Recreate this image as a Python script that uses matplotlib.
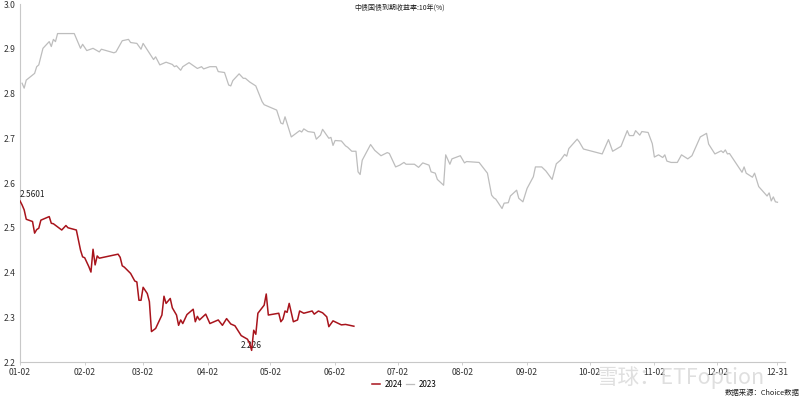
import numpy as np
import pandas as pd
import matplotlib
matplotlib.use("Agg")
import matplotlib.pyplot as plt

plt.rcParams['font.family'] = ['Noto Sans CJK SC', 'DejaVu Sans']

# 10Y China government bond yield, 2023 full year
dates_2023 = [
    "01-03", "01-04", "01-05", "01-09", "01-10", "01-11", "01-13", "01-16", "01-17", "01-18",
    "01-19", "01-20", "01-28", "01-31", "02-01", "02-03", "02-06", "02-09", "02-10", "02-16",
    "02-17", "02-20", "02-23", "02-24", "02-27", "03-01", "03-02", "03-07", "03-08", "03-10",
    "03-13", "03-16", "03-17", "03-18", "03-20", "03-21", "03-24", "03-28", "03-30", "03-31",
    "04-03", "04-06", "04-07", "04-10", "04-12", "04-13", "04-14", "04-17", "04-19", "04-20",
    "04-22", "04-25", "04-28", "04-29", "05-05", "05-07", "05-08", "05-09", "05-12", "05-16",
    "05-17", "05-18", "05-20", "05-23", "05-24", "05-26", "05-27", "05-30", "05-31", "06-01",
    "06-02", "06-05", "06-07", "06-08", "06-10", "06-12", "06-13", "06-14", "06-15", "06-19",
    "06-21", "06-24", "06-27", "06-28", "07-01", "07-03", "07-05", "07-06", "07-10", "07-12",
    "07-14", "07-17", "07-18", "07-20", "07-21", "07-24", "07-25", "07-27", "07-28", "08-01",
    "08-03", "08-04", "08-10", "08-14", "08-16", "08-17", "08-18", "08-21", "08-22", "08-24",
    "08-25", "08-28", "08-29", "08-31", "09-02", "09-05", "09-06", "09-09", "09-11", "09-14",
    "09-16", "09-18", "09-20", "09-21", "09-22", "09-26", "09-27", "09-29", "10-08", "10-11",
    "10-13", "10-17", "10-20", "10-21", "10-23", "10-24", "10-26", "10-27", "10-30", "11-01",
    "11-02", "11-04", "11-06", "11-07", "11-08", "11-10", "11-13", "11-15", "11-18", "11-20",
    "11-24", "11-27", "11-28", "12-01", "12-04", "12-05", "12-06", "12-07", "12-08", "12-11",
    "12-14", "12-15", "12-16", "12-19", "12-20", "12-22", "12-26", "12-27", "12-28", "12-29",
    "12-30", "12-31",
]
yield_2023 = [
    2.823, 2.812, 2.830, 2.845, 2.860, 2.864, 2.901, 2.916, 2.905, 2.921,
    2.916, 2.934, 2.934, 2.901, 2.910, 2.896, 2.901, 2.893, 2.899, 2.891,
    2.893, 2.918, 2.921, 2.914, 2.912, 2.899, 2.912, 2.876, 2.882, 2.864,
    2.870, 2.865, 2.860, 2.862, 2.852, 2.860, 2.869, 2.856, 2.860, 2.855,
    2.860, 2.860, 2.849, 2.847, 2.819, 2.817, 2.829, 2.844, 2.834, 2.834,
    2.826, 2.817, 2.782, 2.775, 2.763, 2.734, 2.732, 2.748, 2.703, 2.717,
    2.714, 2.721, 2.715, 2.713, 2.698, 2.707, 2.720, 2.700, 2.702, 2.684,
    2.695, 2.694, 2.683, 2.680, 2.671, 2.671, 2.625, 2.619, 2.651, 2.686,
    2.673, 2.661, 2.668, 2.666, 2.636, 2.640, 2.646, 2.642, 2.642, 2.635,
    2.645, 2.640, 2.625, 2.622, 2.608, 2.595, 2.663, 2.642, 2.654, 2.661,
    2.645, 2.648, 2.646, 2.622, 2.573, 2.567, 2.564, 2.543, 2.555, 2.556,
    2.571, 2.584, 2.566, 2.558, 2.588, 2.614, 2.636, 2.636, 2.627, 2.608,
    2.643, 2.651, 2.664, 2.660, 2.677, 2.698, 2.692, 2.676, 2.665, 2.697,
    2.671, 2.682, 2.717, 2.706, 2.706, 2.717, 2.707, 2.715, 2.713, 2.688,
    2.658, 2.663, 2.657, 2.663, 2.649, 2.646, 2.646, 2.663, 2.654, 2.661,
    2.703, 2.711, 2.687, 2.665, 2.672, 2.668, 2.674, 2.665, 2.666, 2.645,
    2.624, 2.636, 2.622, 2.613, 2.622, 2.592, 2.571, 2.578, 2.560, 2.569,
    2.558, 2.557,
]

# 2024 year to date
dates_2024 = [
    "01-02", "01-03", "01-04", "01-05", "01-08", "01-09", "01-10", "01-11", "01-12", "01-16",
    "01-17", "01-18", "01-22", "01-24", "01-25", "01-29", "01-31", "02-01", "02-02", "02-04",
    "02-05", "02-06", "02-07", "02-08", "02-09", "02-18", "02-19", "02-20", "02-21", "02-24",
    "02-26", "02-27", "02-28", "03-01", "03-02", "03-04", "03-05", "03-06", "03-08", "03-11",
    "03-12", "03-13", "03-15", "03-16", "03-18", "03-19", "03-20", "03-21", "03-23", "03-26",
    "03-27", "03-28", "03-29", "04-01", "04-03", "04-07", "04-09", "04-11", "04-13", "04-15",
    "04-18", "04-21", "04-22", "04-23", "04-24", "04-25", "04-26", "04-29", "04-30", "05-01",
    "05-06", "05-07", "05-08", "05-09", "05-10", "05-11", "05-13", "05-15", "05-16", "05-18",
    "05-22", "05-23", "05-25", "05-27", "05-29", "05-30", "06-01", "06-05", "06-07", "06-11",
]
yield_2024 = [
    2.5601, 2.551, 2.540, 2.519, 2.514, 2.488, 2.496, 2.499, 2.517, 2.525,
    2.510, 2.509, 2.495, 2.505, 2.500, 2.495, 2.450, 2.435, 2.433, 2.413,
    2.401, 2.452, 2.417, 2.437, 2.432, 2.441, 2.434, 2.415, 2.412, 2.398,
    2.381, 2.379, 2.338, 2.338, 2.367, 2.353, 2.335, 2.268, 2.275, 2.305,
    2.347, 2.331, 2.342, 2.321, 2.305, 2.282, 2.294, 2.286, 2.306, 2.318,
    2.290, 2.302, 2.294, 2.307, 2.286, 2.294, 2.282, 2.297, 2.285, 2.281,
    2.259, 2.251, 2.242, 2.226, 2.271, 2.262, 2.309, 2.327, 2.352, 2.305,
    2.309, 2.290, 2.296, 2.314, 2.311, 2.331, 2.290, 2.294, 2.314, 2.309,
    2.314, 2.307, 2.314, 2.310, 2.301, 2.279, 2.292, 2.283, 2.284, 2.280,
]

tick_dates = ["01-02", "02-02", "03-02", "04-02", "05-02", "06-02", "07-02",
              "08-02", "09-02", "10-02", "11-02", "12-02", "12-31"]
y_ticks = [2.2, 2.3, 2.4, 2.5, 2.6, 2.7, 2.8, 2.9, 3.0]


def day_pos(md):
    # position on a common Jan-02 based calendar axis
    return np.array([pd.Timestamp("2023-" + d).dayofyear - 2 for d in md])


x23 = day_pos(dates_2023)
x24 = day_pos(dates_2024)

fig = plt.figure(figsize=(8, 4.03), dpi=100)
ax = fig.add_axes([0.025, 0.1017, 0.956, 0.8883])

ax.plot(x24, yield_2024, color='#A8141C', linewidth=1.1, label='2024', zorder=3)
ax.plot(x23, yield_2023, color='#BDBDBD', linewidth=0.9, label='2023', zorder=2)

# max / min labels on the 2024 series
i_max = int(np.argmax(yield_2024))
i_min = int(np.argmin(yield_2024))
ax.annotate(f"{yield_2024[i_max]:.4f}", (x24[i_max], yield_2024[i_max]),
            xytext=(0, 1.5), textcoords='offset points', ha='left', va='bottom',
            fontsize=6, color='#222222')
ax.annotate(f"{yield_2024[i_min]:.3f}", (x24[i_min], yield_2024[i_min]),
            xytext=(0, 3.5), textcoords='offset points', ha='center', va='center',
            fontsize=6, color='#222222', zorder=1)

ax.set_xlim(0, 366.5)
ax.set_ylim(2.2, 3.0)
ax.set_xticks(day_pos(tick_dates))
ax.set_xticklabels(tick_dates)
ax.set_yticks(y_ticks)
ax.set_yticklabels([f"{v:.1f}" for v in y_ticks])

for side in ['top', 'right']:
    ax.spines[side].set_visible(False)
for side in ['left', 'bottom']:
    ax.spines[side].set_color('#C8C8C8')
    ax.spines[side].set_linewidth(0.8)
ax.tick_params(axis='x', length=2.5, width=0.6, color='#C8C8C8', pad=2,
               labelsize=6.2, labelcolor='#333333')
ax.tick_params(axis='y', length=0, pad=3, labelsize=6.2, labelcolor='#333333')

fig.text(0.5, 0.992, "中债国债到期收益率:10年(%)", ha='center', va='top',
         fontsize=5, color='#222222')

ax.legend(loc='center', bbox_to_anchor=(0.505, 0.047), bbox_transform=fig.transFigure,
          ncol=2, frameon=False, fontsize=5.8, handlelength=1.0, handletextpad=0.6,
          columnspacing=0.4)

fig.text(0.906, 0.024, "数据来源：Choice数据", ha='left', va='center',
         fontsize=5.3, color='#222222')

# watermark
fig.text(0.745, 0.064, "雪球：ETFoption", ha='left', va='center', fontsize=15.5,
         color='#D8D8D8', alpha=0.8, zorder=10)

fig.savefig("out.png", dpi=100, facecolor='white')
